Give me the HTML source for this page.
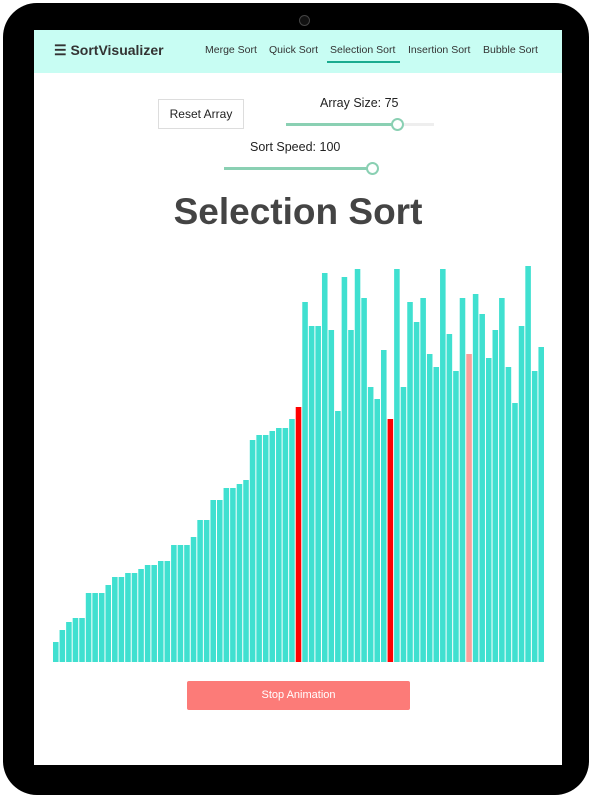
<!DOCTYPE html>
<html><head><meta charset="utf-8"><style>
body{margin:0;width:600px;height:800px;background:#fff;font-family:"Liberation Sans",sans-serif;position:relative;overflow:hidden}
#frame{position:absolute;left:3px;top:3px;width:586px;height:792px;background:#000;border-radius:34px}
#cam{position:absolute;left:296px;top:12px;width:9px;height:9px;border-radius:50%;border:1px solid #444;background:#111}
#screen{position:absolute;left:34px;top:30px;width:528px;height:735px;background:#fff;overflow:hidden}
#nav{position:absolute;left:0;top:0;width:528px;height:43px;background:#c8fdf3}
.a{position:absolute;font-size:10.5px;color:#333;top:14px}
</style></head><body>
<div id="frame"><div id="cam"></div></div>
<div id="screen">
<div id="nav">
 <div style="position:absolute;left:20px;top:12px;font-size:14px;font-weight:bold;color:#333">☰ SortVisualizer</div>
 <div class="a" style="left:171px">Merge Sort</div>
 <div class="a" style="left:235px">Quick Sort</div>
 <div class="a" style="left:296px">Selection Sort</div>
 <div style="position:absolute;left:293px;top:31px;width:73px;height:2px;background:#1aab8f"></div>
 <div class="a" style="left:374px">Insertion Sort</div>
 <div class="a" style="left:449px">Bubble Sort</div>
</div>
<div style="position:absolute;left:124px;top:69px;width:84px;height:28px;border:1px solid #ddd;font-size:12px;color:#222;text-align:center;line-height:28px">Reset Array</div>
<div style="position:absolute;left:286px;top:66px;font-size:12.5px;color:#222">Array Size: 75</div>
<div style="position:absolute;left:252px;top:93px;width:148px;height:3px;background:#eee"><div style="width:110px;height:3px;background:#8ad0b3"></div><div style="position:absolute;left:105px;top:-5px;width:9px;height:9px;border:2px solid #8ad0b3;border-radius:50%;background:#fff"></div></div>
<div style="position:absolute;left:216px;top:110px;font-size:12.5px;color:#222">Sort Speed: 100</div>
<div style="position:absolute;left:190px;top:137px;width:148px;height:3px;background:#8ad0b3"><div style="position:absolute;left:142px;top:-5px;width:9px;height:9px;border:2px solid #8ad0b3;border-radius:50%;background:#fff"></div></div>
<div style="position:absolute;left:0;width:528px;top:161px;text-align:center;font-size:37px;font-weight:bold;color:#444">Selection Sort</div>
<svg id="chart" style="position:absolute;left:0;top:0" width="528" height="735"></svg>
<div style="position:absolute;left:153px;top:651px;width:223px;height:29px;background:#fc7b78;color:#fff;font-size:11px;text-align:center;line-height:29px;border-radius:2px">Stop Animation</div>
</div>
<script>
const values=[20,32,40,44,44,69,69,69,77,85,85,89,89,93,97,97,101,101,117,117,117,125,142,142,162,162,174,174,178,182,222,227,227,231,234,234,243,255,
360,336,336,389,332,251,385,332,393,364,275,263,312,243,393,275,360,340,364,308,295,393,328,291,364,308,368,348,304,332,364,295,259,336,396,291,315];
const redIdx=[37,51];
const pinkIdx=[63];
const svg=document.getElementById('chart');
const x0=19,pitch=492/values.length,base=632,scale=1;
function xs(i){return x0+i*pitch}
function ys(v){return base-v*scale}
values.forEach((v,i)=>{
 const r=document.createElementNS('http://www.w3.org/2000/svg','rect');
 r.setAttribute('x',xs(i));r.setAttribute('y',ys(v));
 r.setAttribute('width',pitch-1);r.setAttribute('height',v*scale);
 r.setAttribute('fill',redIdx.includes(i)?'#ff0000':pinkIdx.includes(i)?'#fb9e9a':'#40e0d0');
 
 
 svg.appendChild(r);
});
</script>
</body></html>
